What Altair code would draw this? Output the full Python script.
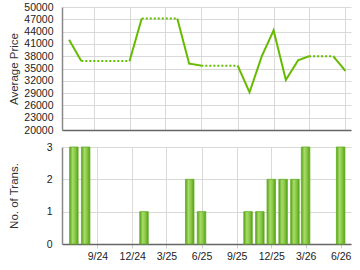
import altair as alt
import pandas as pd

# ---- data ----
trans_months = ["2024-07", "2024-08", "2025-01", "2025-05", "2025-06", "2025-10",
                "2025-11", "2025-12", "2026-01", "2026-02", "2026-03", "2026-06"]
trans_counts = [3, 3, 1, 2, 1, 1, 1, 2, 2, 2, 3, 3]
avg_prices = [42000, 36800, 47200, 36200, 35700, 29200,
              38000, 44300, 32200, 37000, 38000, 34400]
all_months = ["2024-07", "2024-08", "2024-09", "2024-10", "2024-11", "2024-12",
              "2025-01", "2025-02", "2025-03", "2025-04", "2025-05", "2025-06",
              "2025-07", "2025-08", "2025-09", "2025-10", "2025-11", "2025-12",
              "2026-01", "2026-02", "2026-03", "2026-04", "2026-05", "2026-06"]
tick_months = [(2024, 9), (2024, 12), (2025, 3), (2025, 6),
               (2025, 9), (2025, 12), (2026, 3), (2026, 6)]
price_ticks = [20000, 23000, 26000, 29000, 32000, 35000, 38000, 41000, 44000, 47000, 50000]
count_ticks = [0, 1, 2, 3]

# ---- line: carry price forward through months without transactions (dotted) ----
price_by_month = dict(zip(trans_months, avg_prices))
vals = []
last = None
for m in all_months:
    last = price_by_month.get(m, last)
    vals.append(last)

rows = []
run = 0
prev_style = None
for i in range(len(all_months) - 1):
    style = "solid" if all_months[i + 1] in price_by_month else "dotted"
    if style != prev_style:
        run += 1
        rows.append({"date": all_months[i] + "-01T00:00:00", "price": vals[i], "run": run, "style": style})
        prev_style = style
    rows.append({"date": all_months[i + 1] + "-01T00:00:00", "price": vals[i + 1], "run": run, "style": style})
line_df = pd.DataFrame(rows)

bar_df = pd.DataFrame({"date": [m + "-01T00:00:00" for m in trans_months], "count": trans_counts})

tick_vals = [alt.DateTime(year=y, month=m, date=1) for (y, m) in tick_months]
x_scale = alt.Scale(domain=[alt.DateTime(year=2024, month=6, date=13),
                            alt.DateTime(year=2026, month=6, date=15)])

FONT = "Liberation Sans"
W = 289
H_TOP = 123
H_BOT = 97

top = alt.Chart(line_df).mark_line(color="#66bb00", strokeWidth=2).encode(
    x=alt.X("date:T", scale=x_scale,
            axis=alt.Axis(values=tick_vals, labels=False, ticks=False, title=None,
                          grid=True, domainColor="#666666", labelPadding=0)),
    y=alt.Y("price:Q", scale=alt.Scale(domain=[20000, 50000], nice=False, zero=False),
            axis=alt.Axis(values=price_ticks, title="Average Price", format="d",
                          ticks=False, labelPadding=9,
                          titleX=-45, titleY=H_TOP / 2, titleAngle=270,
                          titleAlign="center", titleBaseline="alphabetic")),
    strokeDash=alt.StrokeDash("style:N", legend=None,
                              scale=alt.Scale(domain=["solid", "dotted"], range=[[1, 0], [2, 2]])),
    detail="run:N",
    order="date:T",
).properties(width=W, height=H_TOP)

bar_color = alt.Gradient(
    gradient="linear", x1=0, x2=1, y1=0, y2=0,
    stops=[alt.GradientStop(color="#56a018", offset=0),
           alt.GradientStop(color="#a6dc68", offset=0.35),
           alt.GradientStop(color="#8cc848", offset=0.65),
           alt.GradientStop(color="#54a016", offset=1)],
)

bottom = alt.Chart(bar_df).mark_bar(size=8.5, color=bar_color, stroke="#62ae22", strokeWidth=0.8).encode(
    x=alt.X("date:T", scale=x_scale,
            axis=alt.Axis(values=tick_vals, format="%-m/%y", title=None, grid=True,
                          ticks=True, tickSize=4, tickColor="#cccccc", labelPadding=3,
                          domainColor="#666666")),
    y=alt.Y("count:Q", scale=alt.Scale(domain=[0, 3], nice=False),
            axis=alt.Axis(values=count_ticks, title="No. of Trans.", format="d",
                          ticks=False, labelPadding=10,
                          titleX=-45, titleY=H_BOT / 2, titleAngle=270,
                          titleAlign="center", titleBaseline="alphabetic")),
).properties(width=W, height=H_BOT)

chart = alt.vconcat(top, bottom, spacing=17, bounds="flush").properties(
    padding={"left": 8, "top": 2, "right": 2, "bottom": 2}
).configure_view(stroke=None).configure_axis(
    labelFont=FONT, titleFont=FONT, labelFontSize=10.5, titleFontSize=11.5,
    titleFontWeight="normal", labelColor="#222222", titleColor="#333333",
    gridColor="#d9d9d9", domainWidth=1.5,
)

chart.save("out.html", embed_options={"renderer": "svg", "actions": False})
